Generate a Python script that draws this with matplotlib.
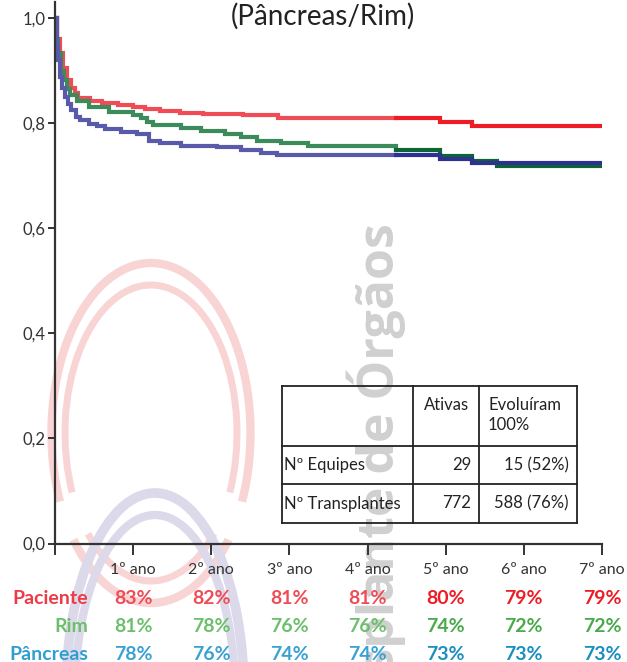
import matplotlib.pyplot as plt
from matplotlib.patches import Arc
from matplotlib.transforms import blended_transform_factory

plt.rcParams['font.family'] = ['Lato', 'DejaVu Sans']

W, H = 627, 662

# Kaplan-Meier curves (years, survival)
paciente_t = [0, 0.03, 0.06, 0.10, 0.15, 0.20, 0.25, 0.30, 0.45, 0.60, 0.80, 1.00,
              1.15, 1.35, 1.60, 1.90, 2.40, 2.85, 4.93, 5.34, 7.0]
paciente_v = [1.0, 0.96, 0.933, 0.905, 0.882, 0.868, 0.857, 0.849, 0.843, 0.839, 0.835, 0.831,
              0.827, 0.823, 0.820, 0.818, 0.815, 0.810, 0.802, 0.794, 0.794]

rim_t = [0, 0.02, 0.04, 0.08, 0.11, 0.15, 0.19, 0.28, 0.43, 0.69, 1.0, 1.10, 1.18, 1.25,
         1.61, 1.87, 2.17, 2.38, 2.58, 2.89, 3.24, 4.37, 4.93, 5.34, 5.65, 7.0]
rim_v = [1.0, 0.96, 0.933, 0.90, 0.882, 0.865, 0.853, 0.843, 0.831, 0.821, 0.815, 0.810, 0.803, 0.797,
         0.792, 0.786, 0.780, 0.773, 0.767, 0.762, 0.756, 0.750, 0.737, 0.729, 0.718, 0.718]

pancreas_t = [0, 0.02, 0.04, 0.064, 0.09, 0.128, 0.17, 0.21, 0.27, 0.32, 0.43, 0.54, 0.64,
              0.84, 1.05, 1.20, 1.35, 1.61, 2.07, 2.38, 2.63, 2.84, 4.93, 5.34, 7.0]
pancreas_v = [1.0, 0.95, 0.92, 0.888, 0.868, 0.850, 0.836, 0.825, 0.812, 0.806, 0.799, 0.795, 0.789,
              0.784, 0.780, 0.767, 0.762, 0.757, 0.754, 0.749, 0.744, 0.740, 0.732, 0.724, 0.724]

split_t = 4.37  # the curves turn darker from here on in the reference

anos = [1, 2, 3, 4, 5, 6, 7]
ano_labels = ['1º ano', '2º ano', '3º ano', '4º ano', '5º ano', '6º ano', '7º ano']
paciente_pct = [83, 82, 81, 81, 80, 79, 79]
rim_pct = [81, 78, 76, 76, 74, 72, 72]
pancreas_pct = [78, 76, 74, 74, 73, 73, 73]

tabela_header = ['', 'Ativas', 'Evoluíram\n100%']
tabela_linhas = [['Nº Equipes', '29', '15 (52%)'],
                 ['Nº Transplantes', '772', '588 (76%)']]


def split_curve(t, v, ts):
    idx = max(i for i, x in enumerate(t) if x <= ts)
    first = (t[:idx + 1] + [ts], v[:idx + 1] + [v[idx]])
    second = ([ts] + t[idx + 1:], [v[idx]] + v[idx + 1:])
    return first, second


fig = plt.figure(figsize=(W / 100, H / 100), dpi=100)

# background: faint logo watermark, in pixel coordinates
bg = fig.add_axes([0, 0, 1, 1], zorder=0)
bg.set_xlim(0, W)
bg.set_ylim(H, 0)
bg.axis('off')
red_wm = '#f8d4d4'
blue_wm = '#dcdaea'
for w, h, lw, bot in [(199, 340, 6, 54), (172, 296, 5, 58)]:
    bg.add_patch(Arc((151, 433), w, h, theta1=-217, theta2=37, color=red_wm, lw=lw))
    bg.add_patch(Arc((151, 433), w, h, theta1=bot, theta2=180 - bot, color=red_wm, lw=lw))
for w, h, lw in [(178, 400, 7), (160, 356, 6)]:
    bg.add_patch(Arc((155, 693), w, h, color=blue_wm, lw=lw))
bg.text(376, 223, 'Transplante de Órgãos', rotation=90, ha='center', va='top',
        fontsize=36, fontweight='bold', color='#d0d0d0', family=['Open Sans', 'DejaVu Sans'])

# main chart
ax = fig.add_axes([55 / W, (H - 543.5) / H, 547 / W, 541 / H], zorder=1)
ax.patch.set_alpha(0)

curves = [
    (paciente_t, paciente_v, '#f04c56', '#ee1c25'),
    (rim_t, rim_v, '#3b8c5a', '#0a6632'),
    (pancreas_t, pancreas_v, '#5a5aaa', '#2e3192'),
]
for t, v, c_light, c_dark in curves:
    (t1, v1), (t2, v2) = split_curve(t, v, split_t)
    ax.plot(t1, v1, drawstyle='steps-post', color=c_light, lw=3, solid_joinstyle='miter')
    ax.plot(t2, v2, drawstyle='steps-post', color=c_dark, lw=3, solid_joinstyle='miter')

ax.set_xlim(0, 7)
ax.set_ylim(0, 1.03)
for s in ['top', 'right']:
    ax.spines[s].set_visible(False)
for s in ['left', 'bottom']:
    ax.spines[s].set_color('#333333')
    ax.spines[s].set_linewidth(1.6)
ax.set_yticks([0, 0.2, 0.4, 0.6, 0.8, 1.0])
ax.set_yticklabels(['0,0', '0,2', '0,4', '0,6', '0,8', '1,0'])
ax.set_xticks([0] + anos)
ax.set_xticklabels([''] + ano_labels)
ax.tick_params(axis='y', length=5, width=1.4, color='#333333', labelsize=12,
               labelcolor='#333333', pad=2)
ax.tick_params(axis='x', length=8, width=1.4, color='#333333', labelsize=11.5,
               labelcolor='#333333', pad=6)

# foreground: title, table and the yearly percentages
fg = fig.add_axes([0, 0, 1, 1], zorder=2)
fg.set_xlim(0, W)
fg.set_ylim(H, 0)
fg.axis('off')

fg.text(323, 16, '(Pâncreas/Rim)', ha='center', va='center', fontsize=20, color='#222222')

col_x = [282, 413, 479, 577]
row_y = [386, 446, 484, 523]
for x in col_x:
    fg.plot([x, x], [row_y[0], row_y[-1]], color='#222222', lw=1.3)
for y in row_y:
    fg.plot([col_x[0], col_x[-1]], [y, y], color='#222222', lw=1.3)
fg.text(424, 397, tabela_header[1], ha='left', va='top', fontsize=12, color='#222222')
fg.text(488, 397, tabela_header[2], ha='left', va='top', fontsize=12, color='#222222',
        linespacing=1.3)
for i, linha in enumerate(tabela_linhas):
    yc = (row_y[i + 1] + row_y[i + 2]) / 2
    fg.text(284, yc, linha[0], ha='left', va='center', fontsize=12, color='#222222')
    fg.text(471, yc, linha[1], ha='right', va='center', fontsize=12, color='#222222')
    fg.text(569, yc, linha[2], ha='right', va='center', fontsize=12, color='#222222')

tr = blended_transform_factory(ax.transData, fg.transData)
rows = [
    ('Paciente', paciente_pct, 598, '#ef3b48', '#f04c56', '#ee1c25'),
    ('Rim', rim_pct, 626, '#6cbf6c', '#6cbf6c', '#4aaa4a'),
    ('Pâncreas', pancreas_pct, 654, '#2e9fd0', '#3aa2d2', '#1a8fc0'),
]
for nome, pct, y, c_label, c_light, c_dark in rows:
    fg.text(88, y, nome, ha='right', va='center', fontsize=14, fontweight='bold', color=c_label)
    for ano, p in zip(anos, pct):
        c = c_light if ano <= 4 else c_dark
        fg.text(ano, y, '{}%'.format(p), transform=tr, ha='center', va='center',
                fontsize=14, fontweight='bold', color=c)

fig.savefig('out.png', dpi=100)
